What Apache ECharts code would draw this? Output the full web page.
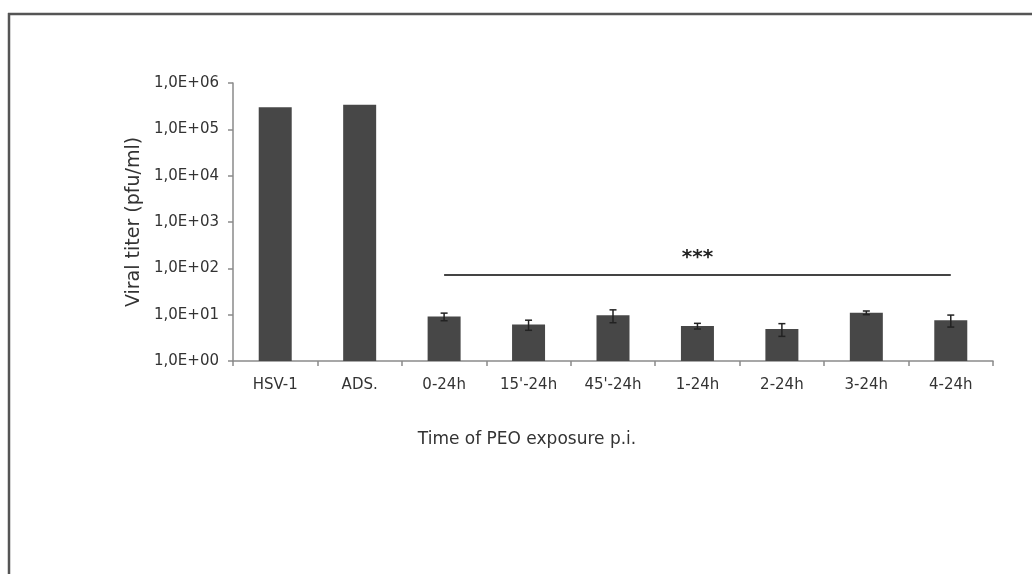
<!DOCTYPE html>
<html>
<head>
<meta charset="utf-8">
<script src="https://cdn.jsdelivr.net/npm/echarts@6/dist/echarts.min.js"></script>
<style>
html,body{margin:0;padding:0;background:#fff;}
#chart{width:1032px;height:574px;}
</style>
</head>
<body>
<div id="chart"></div>
<script>
// ---- data ----
const categories = ['HSV-1', 'ADS.', '0-24h', "15'-24h", "45'-24h", '1-24h', '2-24h', '3-24h', '4-24h'];
const titerValues = [3.0e5, 3.4e5, 9.1, 6.1, 9.7, 5.7, 4.9, 11.0, 7.6];
const errorValues = [null, null, 1.7, 1.5, 3.0, 0.8, 1.5, 1.0, 2.2];
const yTickLabels = ['1,0E+00', '1,0E+01', '1,0E+02', '1,0E+03', '1,0E+04', '1,0E+05', '1,0E+06'];
const significanceFrom = '0-24h';
const significanceTo = '4-24h';
const significanceLevel = 72;
const significanceLabel = '***';
const yAxisTitle = 'Viral titer (pfu/ml)';
const xAxisTitle = 'Time of PEO exposure p.i.';

// ---- chart ----
const chart = echarts.init(document.getElementById('chart'), null, {renderer: 'canvas'});
const FONT = '"DejaVu Sans", "Liberation Sans", Arial, sans-serif';
const TEXT = '#333';
const AXIS = '#8a8a8a';
const BAR = '#474747';

const errData = [];
categories.forEach((c, i) => {
  if (errorValues[i] != null) {
    errData.push([i, titerValues[i] - errorValues[i], titerValues[i] + errorValues[i]]);
  }
});

const option = {
  backgroundColor: '#fff',
  animation: false,
  grid: {left: 233, right: 39, top: 83, bottom: 213, containLabel: false},
  xAxis: {
    type: 'category',
    data: categories,
    axisLine: {lineStyle: {color: AXIS, width: 1.5}},
    axisTick: {show: true, length: 5, lineStyle: {color: AXIS, width: 1.5}},
    axisLabel: {color: TEXT, fontFamily: FONT, fontSize: 15, margin: 17}
  },
  yAxis: {
    type: 'log',
    logBase: 10,
    min: 1,
    max: 1e6,
    interval: 1,
    name: yAxisTitle,
    nameLocation: 'middle',
    nameRotate: 90,
    nameGap: 81,
    nameTextStyle: {color: TEXT, fontFamily: FONT, fontSize: 19},
    axisLine: {show: true, lineStyle: {color: AXIS, width: 1.5}},
    axisTick: {show: true, length: 5, lineStyle: {color: AXIS, width: 1.5}},
    splitLine: {show: false},
    axisLabel: {
      color: TEXT, fontFamily: FONT, fontSize: 15, margin: 14,
      formatter: function (v) { return yTickLabels[Math.round(Math.log10(v))]; }
    }
  },
  series: [
    {
      type: 'bar',
      data: titerValues,
      barWidth: 33,
      itemStyle: {color: BAR},
      markLine: {
        silent: true,
        symbol: 'none',
        lineStyle: {color: '#444', width: 2, type: 'solid'},
        label: {
          show: true, position: 'middle', formatter: significanceLabel,
          color: '#222', fontSize: 20, fontFamily: FONT, fontWeight: 'bold', distance: 7
        },
        data: [[
          {coord: [significanceFrom, significanceLevel]},
          {coord: [significanceTo, significanceLevel]}
        ]]
      }
    },
    {
      type: 'custom',
      data: errData,
      z: 5,
      renderItem: function (params, api) {
        const lo = api.coord([api.value(0), api.value(1)]);
        const hi = api.coord([api.value(0), api.value(2)]);
        const cap = 3.5;
        const style = {stroke: '#222', lineWidth: 1.5};
        return {
          type: 'group',
          children: [
            {type: 'line', shape: {x1: hi[0], y1: hi[1], x2: lo[0], y2: lo[1]}, style: style},
            {type: 'line', shape: {x1: hi[0] - cap, y1: hi[1], x2: hi[0] + cap, y2: hi[1]}, style: style},
            {type: 'line', shape: {x1: lo[0] - cap, y1: lo[1], x2: lo[0] + cap, y2: lo[1]}, style: style}
          ]
        };
      }
    }
  ],
  graphic: [
    {type: 'line', shape: {x1: 8, y1: 14, x2: 1032, y2: 14}, style: {stroke: '#555', lineWidth: 2.5}},
    {type: 'line', shape: {x1: 9, y1: 13, x2: 9, y2: 574}, style: {stroke: '#555', lineWidth: 2.5}},
    {type: 'text', x: 527, y: 440, style: {text: xAxisTitle, fill: TEXT, font: '17px ' + FONT, textAlign: 'center', textVerticalAlign: 'middle'}}
  ]
};
chart.setOption(option);
</script>
</body>
</html>
